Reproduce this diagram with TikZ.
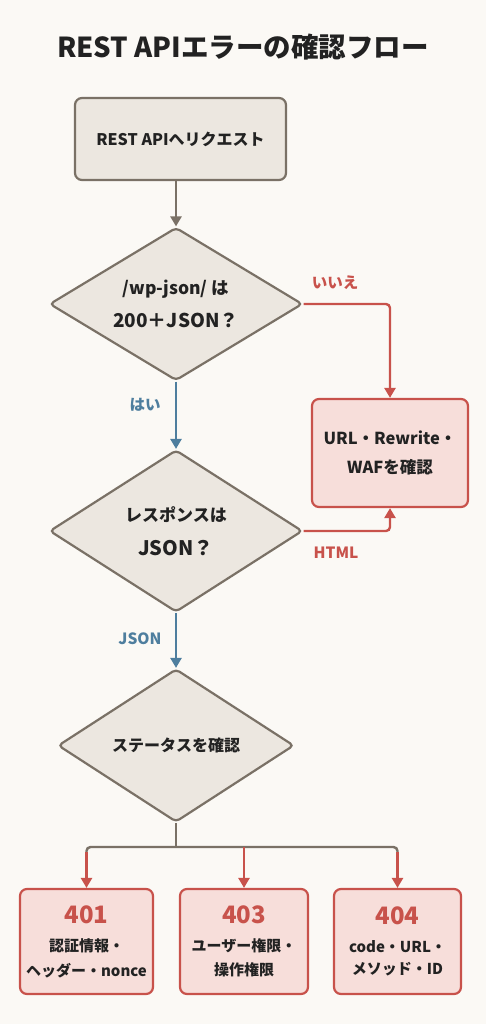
\documentclass[tikz,border=0pt]{standalone}
\usepackage{fontspec}
\setmainfont{Noto Sans CJK JP}
\usetikzlibrary{shapes.geometric,arrows.meta}
\definecolor{bgc}{HTML}{FBF9F5}
\definecolor{gfill}{HTML}{ECE7E0}
\definecolor{gdraw}{HTML}{7A7166}
\definecolor{rdraw}{HTML}{C8524B}
\definecolor{rfill}{HTML}{F7DEDA}
\definecolor{bluec}{HTML}{4E7E9E}
\definecolor{txt}{HTML}{222222}
\newcommand\lnfont[2]{\fontsize{#1}{#2}\selectfont\bfseries}
\tikzset{
  greybox/.style={draw=gdraw, fill=gfill, line width=2.2pt, rounded corners=7pt, text=txt, align=center, inner sep=0pt},
  redbox/.style={draw=rdraw, fill=rfill, line width=2.2pt, rounded corners=7pt, text=txt, align=center, inner sep=0pt},
  decision/.style={diamond, aspect=1.65, draw=gdraw, fill=gfill, line width=2.2pt, rounded corners=4pt, text=txt, align=center, inner sep=0pt},
  garrow/.style={draw=gdraw, line width=2.4pt, -{Triangle[length=10pt,width=11pt]}},
  rarrow/.style={draw=rdraw, line width=2.4pt, rounded corners=4pt, -{Triangle[length=10pt,width=11pt]}},
  barrow/.style={draw=bluec, line width=2.4pt, -{Triangle[length=10pt,width=11pt]}},
  gline/.style={draw=gdraw, line width=2.4pt, rounded corners=4pt},
  rlabel/.style={text=rdraw, font=\lnfont{15.5}{18}},
  blabel/.style={text=bluec, font=\lnfont{15.5}{18}},
}
\begin{document}
\begin{tikzpicture}[x=1pt,y=-1pt]
\fill[bgc] (0,0) rectangle (486,1024);
\useasboundingbox (0,0) rectangle (486,1024);

\node[text=txt, font=\lnfont{27.5}{32}] (title) at (243,47) {REST APIエラーの確認フロー};

\node[greybox, minimum width=211pt, minimum height=82pt, font=\lnfont{16}{20}] (req) at (180.5,139) {REST APIへリクエスト};

\node[decision, minimum width=253pt, minimum height=153pt] (d1) at (176,304)
  {\lnfont{17.5}{20}/wp-json/ は\\[14pt]\lnfont{19}{24}200＋JSON？};

\node[redbox, minimum width=156pt, minimum height=108pt] (waf) at (390,453)
  {\lnfont{16.5}{32}URL・Rewrite・\\[14pt]\lnfont{16.5}{32}WAFを確認};

\node[decision, minimum width=253pt, minimum height=162pt] (d2) at (176,531)
  {\lnfont{17}{21}レスポンスは\\[17pt]\lnfont{20}{24}JSON？};

\node[decision, minimum width=236pt, minimum height=153pt, font=\lnfont{16}{20}] (d3) at (176,745.5)
  {ステータスを確認};

\node[redbox, minimum width=133pt, minimum height=105pt] (e401) at (86.5,941.5)
  {\lnfont{24}{26}\color{rdraw}401\\[14pt]\lnfont{15}{25}認証情報・\\[9pt]\lnfont{15}{25}ヘッダー・nonce};
\node[redbox, minimum width=128pt, minimum height=105pt] (e403) at (244,941.5)
  {\lnfont{24}{26}\color{rdraw}403\\[14pt]\lnfont{15}{25}ユーザー権限・\\[9pt]\lnfont{15}{25}操作権限};
\node[redbox, minimum width=127pt, minimum height=105pt] (e404) at (397.5,941.5)
  {\lnfont{24}{26}\color{rdraw}404\\[14pt]\lnfont{15}{25}code・URL・\\[9pt]\lnfont{15}{25}メソッド・ID};

% connectors
\draw[garrow] (d1.north |- req.south) -- (d1.north);
\draw[rarrow] (d1.east) -| (waf.north);
\node[rlabel] (lno) at (335,283) {いいえ};
\draw[barrow] (d1.south) -- (d2.north);
\node[blabel] (lyes) at (145,405) {はい};
\draw[rarrow] (d2.east) -| (waf.south);
\node[rlabel] (lhtml) at (336,553) {HTML};
\draw[barrow] (d2.south) -- (d3.north);
\node[blabel] (ljson) at (140,639) {JSON};

\coordinate (split) at (176,847);
\coordinate (h1) at (86.5,847);
\coordinate (h2) at (244,847);
\coordinate (h3) at (397.5,847);
\coordinate (h1d) at (86.5,852);
\coordinate (h3d) at (397.5,852);
\draw[gline] (d3.south) -- (split);
\draw[gline] (h1d) -- (h1) -- (h3) -- (h3d);
\draw[rarrow] (h1d) -- (e401.north);
\draw[rarrow] (h2) -- (e403.north);
\draw[rarrow] (h3d) -- (e404.north);
\end{tikzpicture}
\end{document}
